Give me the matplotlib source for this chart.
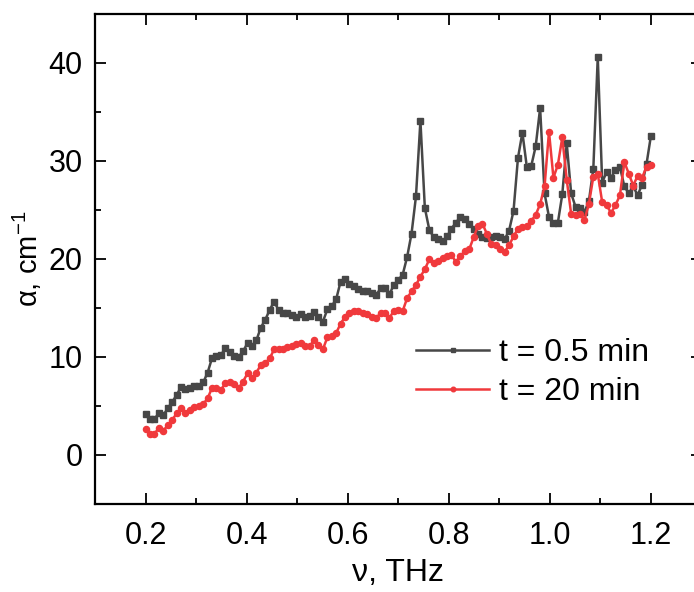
import numpy as np
import matplotlib
matplotlib.use("Agg")
import matplotlib.pyplot as plt
from matplotlib.ticker import MultipleLocator

plt.rcParams['font.family'] = ['Liberation Sans', 'DejaVu Sans']
plt.rcParams['mathtext.fontset'] = 'custom'
plt.rcParams['mathtext.rm'] = 'Liberation Sans'
plt.rcParams['mathtext.it'] = 'Liberation Sans:italic'

# frequency grid (THz): 115 evenly sampled points from 0.2 to 1.2
freq_start, freq_stop, n_points = 0.2, 1.2, 115
freq = np.linspace(freq_start, freq_stop, n_points)

alpha_05min = [
    4.15, 3.64, 3.64, 4.3, 4.05, 4.75, 5.4, 6.1, 6.95, 6.7,
    6.85, 7.0, 7.05, 7.4, 8.4, 9.9, 10.1, 10.2, 10.9, 10.5,
    10.15, 10.0, 10.6, 11.4, 11.15, 11.7, 13.0, 13.8, 14.8, 15.65,
    14.8, 14.5, 14.45, 14.3, 14.05, 14.35, 14.1, 14.2, 14.6, 14.05,
    13.6, 14.85, 15.2, 15.9, 17.7, 17.95, 17.5, 17.2, 16.9, 16.75,
    16.7, 16.5, 16.3, 17.0, 17.0, 16.4, 17.35, 17.85, 18.4, 20.2,
    22.6, 26.4, 34.1, 25.2, 23.0, 22.2, 22.0, 21.8, 22.3, 23.1,
    23.7, 24.3, 24.05, 23.6, 23.1, 22.6, 22.2, 22.1, 22.2, 22.3,
    22.2, 22.0, 22.9, 24.9, 30.3, 32.9, 29.4, 29.5, 31.5, 35.4,
    26.7, 24.3, 23.7, 23.7, 26.6, 31.8, 26.7, 25.3, 25.2, 24.8,
    25.9, 29.2, 40.6, 27.8, 28.9, 28.3, 29.1, 29.4, 27.4, 26.7,
    27.4, 26.5, 27.6, 29.7, 32.6,
]

alpha_20min = [
    2.62, 2.14, 2.14, 2.79, 2.48, 3.03, 3.55, 4.25, 4.8, 4.32,
    4.59, 4.9, 5.0, 5.2, 5.78, 6.85, 6.8, 6.65, 7.3, 7.45,
    7.24, 6.8, 7.5, 8.33, 7.82, 8.4, 9.2, 9.4, 9.86, 10.77,
    10.77, 10.8, 11.05, 11.15, 11.3, 11.4, 11.1, 11.1, 11.7, 11.2,
    10.77, 12.0, 12.15, 12.45, 13.4, 14.1, 14.5, 14.73, 14.7, 14.5,
    14.4, 14.1, 13.95, 14.5, 14.5, 13.95, 14.73, 14.8, 14.7, 16.0,
    16.7, 17.35, 18.2, 18.95, 19.96, 19.6, 19.8, 20.06, 20.3, 20.4,
    19.7, 20.3, 20.8, 20.98, 22.2, 23.4, 23.6, 22.55, 21.5, 21.4,
    20.98, 20.75, 21.4, 22.3, 23.1, 23.3, 23.4, 23.9, 24.5, 25.6,
    27.4, 33.0, 28.3, 29.6, 32.4, 28.1, 24.6, 24.5, 24.6, 24.0,
    25.6, 28.4, 28.7, 25.8, 25.5, 24.7, 25.5, 26.5, 29.9, 28.7,
    27.5, 28.5, 28.3, 29.4, 29.6,
]

labels = ["t = 0.5 min", "t = 20 min"]
colors = ["#474747", "#f0393c"]

fig = plt.figure(figsize=(6.94, 5.92), dpi=100)
ax = fig.add_axes([95/694, 1 - 504/592, 606.5/694, 490/592])

ax.plot(freq, alpha_05min, color=colors[0], lw=1.8, marker='s', ms=4.4,
        label=labels[0])
ax.plot(freq, alpha_20min, color=colors[1], lw=1.8, marker='o', ms=4.4,
        label=labels[1])

ax.set_xlim(0.1, 1.3)
ax.set_ylim(-5, 45)
ax.xaxis.set_minor_locator(MultipleLocator(0.1))
ax.yaxis.set_minor_locator(MultipleLocator(5))
ax.set_xticks([0.2, 0.4, 0.6, 0.8, 1.0, 1.2])
ax.set_xticklabels(["0.2", "0.4", "0.6", "0.8", "1.0", "1.2"])
ax.set_yticks([0, 10, 20, 30, 40])

ax.tick_params(which='both', direction='in', top=True, right=True,
               width=1.3, labelsize=22)
ax.tick_params(which='major', length=8)
ax.tick_params(which='minor', length=4)
ax.tick_params(axis='x', pad=12)
ax.tick_params(axis='y', pad=9)
for s in ax.spines.values():
    s.set_linewidth(1.6)

ax.set_xlabel("ν, THz", fontsize=23, labelpad=5)
ax.set_ylabel(r"α, cm$^{\mathregular{-1}}$", fontsize=21, labelpad=3)

ax.legend(loc='center left', bbox_to_anchor=(0.529, 0.268), frameon=False,
          fontsize=23, handlelength=2.3, handletextpad=0.3, borderpad=0,
          borderaxespad=0, labelspacing=0.28, markerscale=0.75)

fig.savefig("out.png", dpi=100)
